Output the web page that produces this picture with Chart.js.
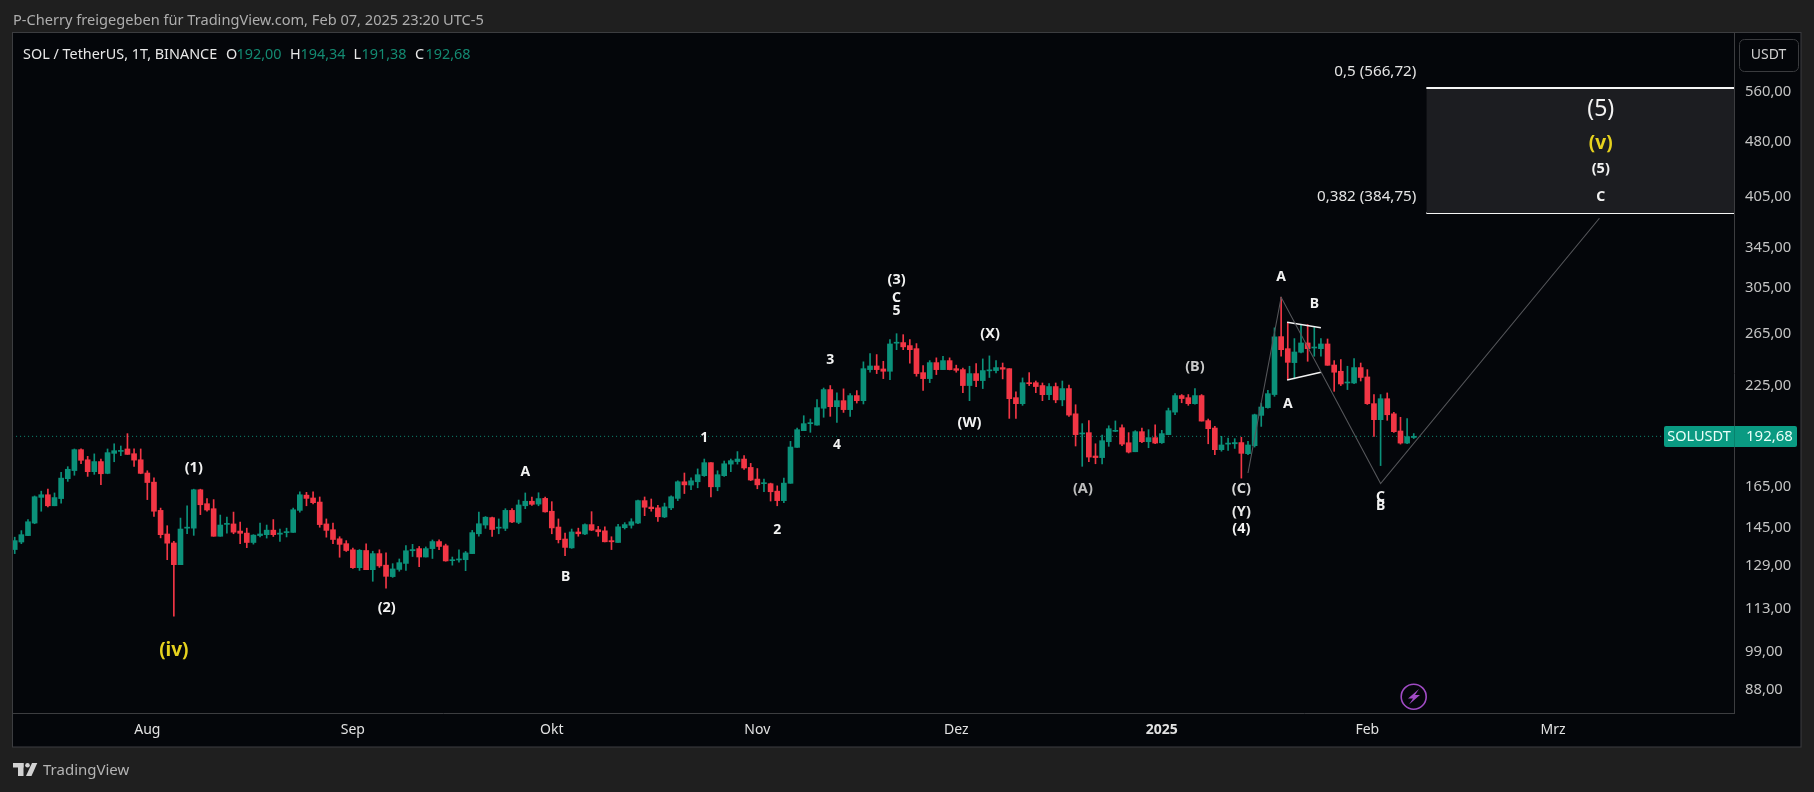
<!DOCTYPE html>
<html><head><meta charset="utf-8">
<style>html,body{margin:0;padding:0;background:#1f1f1f;overflow:hidden}canvas{display:block}</style>
<script src="https://cdn.jsdelivr.net/npm/chart.js@4"></script>
</head><body><canvas id="c" width="1814" height="792"></canvas>
<script>
const opens=[135.7,138.9,141.7,147.3,159.5,160.8,155.4,158.9,169.0,173.3,
184.9,179.2,172.7,178.2,171.8,182.8,183.9,185.3,182.6,179.2,
172,167.2,153.2,142.4,138.5,129.5,145,145,163.3,156.4,
154,141.4,146.7,146.9,143.7,142.8,138.7,141.7,142.1,144.1,
142.3,143,143.1,153.2,160.6,159.2,157.2,146.9,144.3,140.3,
138.2,135.6,128.3,135.3,127.5,134,129.3,124.8,127.6,130,
135.2,136.1,132.6,136.1,139.1,137.3,131.1,131.4,131.5,134,
142.5,146.4,149.8,145,144.9,153.2,147.6,155.4,157.6,156.2,
159,152.8,145.5,140.2,136.4,143.3,142.4,146.6,144.3,143.8,
139.5,138.7,145.2,146.3,147.3,157.9,154.8,154.4,150.1,154.4,
159,167.4,165.7,167.4,170.6,177.6,164.8,170.6,176.8,178.2,
179.6,175,168.8,166.4,166.4,162.6,157.9,166.6,186.2,196.1,
200.4,199.5,210.2,222.7,211.2,215.2,209.3,218.6,215.2,236.9,
239.6,237.4,235.7,257.1,257.6,255.2,252.8,234.7,230.4,242.1,
236.9,243.6,237.6,236.9,225.5,234,229,236,236.2,238.4,
237.6,217.2,213.2,227.5,227.5,225.5,219.2,224.8,215.7,223.4,
206.6,194.1,194.9,181.3,180.4,189.5,195.7,197.9,188.9,183.7,
195.5,189.5,191.9,188.9,193.7,207.7,218.6,217.2,213.2,218.6,
202.3,197.7,184.9,188.1,188.3,189,182.6,187.2,205.6,210.6,
219.3,262.4,252.8,242.1,250,257.3,253.3,252.8,256.5,240.3,
235.7,227.3,227.3,238.4,231.6,213.2,202.9,216.5,206.6,195.9,
188.7,192.00];
const highs=[141,143.9,148.9,160.2,162.6,163.6,161.7,172.4,175.4,185.3,
185.3,181.1,182.5,179.6,185.3,188.3,187,194.3,185.3,185.3,
173.2,169.4,154.3,146.1,139.2,149.6,155.4,163.6,163.6,158.9,
158.4,151,150.1,152.4,147.8,145,142.1,147.3,146.4,148.9,
144.6,145,154.3,162.2,162,162.2,159.7,149.2,147.3,141.2,
139.5,136.3,135.7,138.1,135,135.6,134.3,129.9,131.8,137.4,
137.9,137,136.8,139.8,139.8,138,132.6,135.6,134.9,144,
152.4,150.3,150.1,149.2,154,154,158.2,161.7,159.7,161.8,
159.7,157.4,149.2,142.8,144.6,145,147,152.6,145.8,145.6,
141.2,146.7,147.5,149.3,158.2,159.7,158.7,155.6,156.7,160.3,
167.9,172,169.5,174.2,179.6,177.6,173.2,178.5,179.6,183.8,
181.5,177.2,174.4,168.8,166.7,165.3,169.3,189.7,197.7,205.4,
203.3,215.9,223.8,225.5,220.4,223.2,220,222,242.7,249,
248.2,243.1,260,264.8,264,260,256.8,239.9,243.6,245.7,
246.9,245.7,240.2,238.1,239.4,241.4,244.9,247.2,243.6,241.8,
237.6,221.1,230.9,234.7,228.7,227.3,226.8,227.3,228.7,225.9,
212.5,200.4,202.3,188.3,193.5,199.1,202.1,199.7,194.9,196.1,
197.7,196.7,199.7,196.3,210.3,220,219.3,219.3,223.4,219.3,
203.3,198.7,192.7,191.7,191.3,192.1,189.7,206.4,213.6,222.2,
269.6,296.4,274.3,260.8,272.3,272.3,270,260.8,260.5,243.6,
244.4,239.4,245.2,241.8,236.9,219.3,219.3,220.4,207.6,204.4,
203.6,194.34];
const lows=[134,138.2,141.7,147,152.8,154.8,155.4,156.6,167.6,170.8,
177,170.2,171.3,165.9,171.6,178.1,181.5,182.2,175.6,171.6,
158.4,150.4,140.7,131.5,110.4,129.5,142.5,141.8,151.2,152.8,
141.4,141.4,142.8,142.5,138.2,136.5,138,141.1,140.6,141.3,
139.2,141.1,143.1,152.3,155.4,156.3,145.4,141,138.2,132.5,
134.9,128,127.2,127.5,123,128.4,120.4,124.5,126.9,127.2,
132.8,128.7,132.6,132,135.7,130.9,129.3,130.5,127.1,134,
141.4,144.9,141.3,142.5,143.9,147.5,147,154,155.6,155.4,
152.3,142.5,138.5,133.2,136.2,141.4,142.1,143.9,141.4,138.9,
135.7,138.7,144.6,145,147,150.7,152.8,148,149.8,153.5,
157.9,161.4,163.3,164.3,170.2,159.7,162.8,170.2,172.7,176.8,
173.9,168,163.8,162.3,157.7,155.4,156.9,166.6,186.2,196.1,
195.1,199.5,204.4,205,201.2,207.5,205,213.6,213,235,
234,230.4,229.7,252,252,241.6,232.1,222.2,227.5,233.3,
236.9,236.7,235,220.6,215.2,224.8,223.4,231.2,234.5,230.2,
203.7,203.7,212.1,225.5,220.6,215.2,215.9,213.8,211.8,205,
187,175.6,178.1,177,176.9,186.8,195.5,187.2,183,183.7,
189,186,188.3,188.5,193.7,206,213.8,212.1,212.8,202,
188.3,182,184,184.5,185.6,169.3,182,186.4,198.7,210.2,
218.1,246.9,229.7,230.2,249.5,243.1,246.9,246.9,240.1,221.5,
225.5,222.7,226.8,228.7,212.7,192.7,176,202.5,195.1,188.1,
188.3,191.38];
const closes=[139.5,142.1,147.9,159.8,160.8,155.4,159.4,169.3,174,184.9,
178.9,172.7,178.2,171.6,183.2,184.3,184.4,182.2,179,171.8,
167,152.8,142.1,138.4,129.5,144.6,145.4,163.3,155.9,153.4,
141.4,146.4,147,143.2,142.7,138.7,141.9,142.4,144.1,142.1,
142.8,143.2,153.5,160.8,159,156.9,146.6,144,140,137.9,
135.3,128.3,135.4,127.5,134,129,124.9,127.8,130.3,135.2,
135.7,132.6,136.1,139.1,137,131,131.5,131.8,134.3,143,
147,150,144.4,145.2,153.2,147.8,155.8,157.6,156.1,158.9,
152.5,145.1,139.9,136.6,143.3,142.5,146.6,144.1,143.4,139,
139,145.6,146.6,147.9,157.9,154.7,154,150.2,154.9,159.8,
167.4,165.8,167.9,171.1,177.6,164.8,171.1,177,178.7,179.6,
174.7,168.3,165.8,166.7,162.3,157.9,166.7,186.4,196.7,200.4,
200.8,210.6,222.7,211.2,215.2,209.3,218.6,215.2,237.6,239.6,
236.9,235.7,256.5,257.6,254.2,252,234,230.4,242.1,236.9,
243.6,236.9,236.4,225.5,234,229,236.2,236.7,238.4,237.2,
216.5,213.2,227.5,226.8,224.8,219.2,224.8,215.7,223.4,205.8,
193.7,194.7,180.7,180.4,190.1,197.3,196.3,188.1,183.5,195.5,
189.5,191.9,188.7,194.3,208.6,218.6,216.6,213.2,218.6,202,
197.3,184.9,187.6,188.7,189,182.8,187.6,206,211,219.9,
262.2,252,242.3,250.2,257.3,252.8,253.8,256.5,240.1,235,
226.6,228,238.4,231.2,213.2,202.9,216.5,206,195.5,188.7,
192.5,192.68];

const lastClose=192.68;
const priceTicks=[560,480,405,345,305,265,225,165,145,129,113,99,88];
const monthIdx=[20,51,81,112,142,173,204,232];
const monthNames=["Aug","Sep","Okt","Nov","Dez","2025","Feb","Mrz"];
const waveX=[186,191,206,239];
const waveY=[172,296.4,166.5,378.6];
const wedgeUpX=[191.9,197];
const wedgeUpY=[274.3,269.8];
const wedgeLowX=[191.9,197];
const wedgeLowY=[229.4,235];
const fibStartIdx=212.9;
const fibPrices=[566.72,384.75];
const waveTexts=["(iv)","(1)","(2)","A","B","1","2","4","3","(3)","C","5","(X)","(W)","(A)","(B)","(C)","(Y)","(4)","A","B","A","C","B","(5)","(v)","(5)","C"];
const waveIdx=[24,27,56.1,77,83.1,104,115,124,123,133,133,133,147.1,144,161.1,178,185,185,185,191,196,192,206,206,239.2,239.2,239.2,239.2];
const wavePrice=[99.1,174.6,113.2,172.3,124.6,191.5,144.1,187.6,244,313,295.5,284.1,264.8,201,163.6,239,163.5,152.7,144.6,316,290.3,213.2,159.8,155.2,530.8,477.7,441.6,404.6];
const waveSize=[19,14.5,14.5,14,14,14,14,14,14,14.5,14,14,14.5,14.5,14.5,14.5,14.5,14.5,14.5,14,14,14,14,14,23,19,14.5,14];
const waveColor=["#e6d21e","#f2f2f2","#f2f2f2","#f2f2f2","#f2f2f2","#f2f2f2","#f2f2f2","#f2f2f2","#f2f2f2","#f2f2f2","#f2f2f2","#f2f2f2","#f2f2f2","#f2f2f2","#bdbdbd","#c9c9c9","#d6d6d6","#e8e8e8","#f2f2f2","#f2f2f2","#f2f2f2","#f2f2f2","#f2f2f2","#f2f2f2","#f2f2f2","#e6d21e","#f2f2f2","#f2f2f2"];
const fibTexts=["0,5 (566,72)","0,382 (384,75)"];
const fibTextPrice=[595.9,404.6];

const FONT='"Noto Sans",sans-serif';
const UP='#0b917a',DOWN='#f23645',BG='#04060a',FRAME='#1f1f1f',EDGE='#3c3d40';
const idx=opens.map((_,i)=>i);
const barColors=idx.map(i=>closes[i]>=opens[i]?UP:DOWN);
const pts=(xs,ys)=>xs.map((x,i)=>({x,y:ys[i]}));

const bgPlugin={id:'bg',beforeDraw(ch){
  const c=ch.ctx,a=ch.chartArea;
  c.save();c.fillStyle=FRAME;c.fillRect(0,0,1814,792);
  c.fillStyle=BG;c.fillRect(a.left,a.top,1801-a.left,747-a.top);
  c.restore();
}};
const overlay={id:'overlay',afterDraw(ch){
  const c=ch.ctx,x=ch.scales.x,y=ch.scales.y,a=ch.chartArea;
  const txt=(s,px,py,font,col,al)=>{c.font=font;c.fillStyle=col;c.textAlign=al||'left';c.textBaseline='middle';c.fillText(s,px,py);};
  c.save();
  c.strokeStyle=EDGE;c.lineWidth=1;c.strokeRect(a.left-.5,a.top-.5,1801-a.left+.5,747-a.top+.5);
  waveTexts.forEach((s,i)=>txt(s,x.getPixelForValue(waveIdx[i]),y.getPixelForValue(wavePrice[i]),
    (waveSize[i]>=23?'':'bold ')+waveSize[i]+'px '+FONT,waveColor[i],'center'));
  fibTexts.forEach((s,i)=>txt(s,x.getPixelForValue(fibStartIdx)-10,y.getPixelForValue(fibTextPrice[i]),'15.2px '+FONT,'#e4e4e4','right'));
  txt('P-Cherry freigegeben für TradingView.com, Feb 07, 2025 23:20 UTC-5',13,20.5,'14.6px '+FONT,'#aeaeae');
  const g='#148a72',w='#e8e8e8',lf='14.4px '+FONT;
  txt('SOL / TetherUS, 1T, BINANCE',23,54.5,lf,w);
  [['O',226,opens[211].toFixed(2)],['H',290,highs[211].toFixed(2)],['L',353.5,lows[211].toFixed(2)],['C',415,closes[211].toFixed(2)]].forEach(p=>{
    txt(p[0],p[1],54.5,lf,w);
    txt(p[2].replace('.',','),p[1]+(p[0]==='L'?8:10.5),54.5,lf,g);
  });
  c.strokeStyle='#3a3b3e';c.beginPath();c.roundRect(1739.5,39.5,59,32,5);c.stroke();
  txt('USDT',1768.5,55.5,'14px '+FONT,'#cfcfcf','center');
  const py=Math.round(y.getPixelForValue(lastClose));
  c.fillStyle='#0a9a82';c.beginPath();c.roundRect(1664,py-10,133,21,2);c.fill();
  c.strokeStyle='#08826e';c.beginPath();c.moveTo(1734.5,py-10);c.lineTo(1734.5,py+11);c.stroke();
  txt('SOLUSDT',1699,py+.5,'14.5px '+FONT,'#eafff9','center');
  txt(lastClose.toFixed(2).replace('.',','),1746,py+.5,'15px '+FONT,'#eafff9');
  c.strokeStyle='#a04bc4';c.lineWidth=1.6;c.beginPath();c.arc(1413.7,696.7,12.5,0,Math.PI*2);c.stroke();
  c.fillStyle='#a04bc4';c.beginPath();
  [[1419,689],[1408,698.5],[1413,698.5],[1409,704.5],[1420,695],[1415,695]].forEach((p,i)=>i?c.lineTo(p[0],p[1]):c.moveTo(p[0],p[1]));
  c.closePath();c.fill();
  c.fillStyle='#d2d2d2';
  c.fillRect(13,763,10.5,4.5);c.fillRect(18,763,5.5,13);
  c.beginPath();c.arc(27.5,765.2,2.3,0,Math.PI*2);c.fill();
  c.beginPath();c.moveTo(32,763);c.lineTo(37.3,763);c.lineTo(31.5,776);c.lineTo(26,776);c.closePath();c.fill();
  txt('TradingView',43,770.5,'15px '+FONT,'#b4b4b4');
  c.restore();
}};

new Chart(document.getElementById('c'),{
  type:'bar',
  data:{datasets:[
    {type:'line',label:'fib top',data:pts([fibStartIdx,260],[fibPrices[0],fibPrices[0]]),borderColor:'#f5f5f5',borderWidth:2,pointRadius:0,fill:'+1',backgroundColor:'#1c1d21',order:5},
    {type:'line',label:'fib low',data:pts([fibStartIdx,260],[fibPrices[1],fibPrices[1]]),borderColor:'#f5f5f5',borderWidth:2,pointRadius:0,order:5},
    {type:'line',label:'last',data:pts([-1,260],[lastClose,lastClose]),borderColor:'#0f8d76',borderWidth:1,borderDash:[1,3],pointRadius:0,order:6},
    {type:'bar',label:'wick',data:idx.map(i=>({x:i,y:[lows[i],highs[i]]})),backgroundColor:barColors,barThickness:1,grouped:false,order:4},
    {type:'bar',label:'body',data:idx.map(i=>({x:i,y:[opens[i],closes[i]]})),backgroundColor:barColors,barThickness:5,minBarLength:1,grouped:false,order:3},
    {type:'line',label:'wave',data:pts(waveX,waveY),borderColor:'#55565a',borderWidth:1.1,pointRadius:0,tension:0,order:1},
    {type:'line',label:'wedge up',data:pts(wedgeUpX,wedgeUpY),borderColor:'#f2f2f2',borderWidth:1.5,pointRadius:0,order:1},
    {type:'line',label:'wedge low',data:pts(wedgeLowX,wedgeLowY),borderColor:'#f2f2f2',borderWidth:1.5,pointRadius:0,order:1}
  ]},
  options:{
    responsive:false,animation:false,
    devicePixelRatio:1,
    layout:{padding:{left:13,top:33,right:13,bottom:45}},
    plugins:{legend:{display:false},tooltip:{enabled:false}},
    scales:{
      x:{type:'linear',min:-0.26,max:259.3,offset:false,
        grid:{display:false,drawTicks:false},
        border:{color:EDGE},
        afterFit(s){s.height=34;},
        afterBuildTicks(s){s.ticks=monthIdx.map(v=>({value:v}));},
        ticks:{autoSkip:false,maxRotation:0,padding:9,color:'#e2e2e2',
          font:(ctx)=>({family:FONT,size:14,weight:ctx.tick&&ctx.tick.value===173?'bold':'normal'}),
          callback:(v)=>monthNames[monthIdx.indexOf(v)]}
      },
      y:{type:'logarithmic',position:'right',min:81.8,max:671.9,
        grid:{display:false,drawTicks:false},
        border:{color:EDGE},
        afterFit(s){s.width=67;},
        afterBuildTicks(s){s.ticks=priceTicks.map(v=>({value:v}));},
        ticks:{autoSkip:false,padding:11,color:'#c4c4c4',font:{family:FONT,size:14.8},crossAlign:'near',
          callback:(v)=>v.toFixed(2).replace('.',',')}
      }
    }
  },
  plugins:[bgPlugin,overlay]
});
</script></body></html>
